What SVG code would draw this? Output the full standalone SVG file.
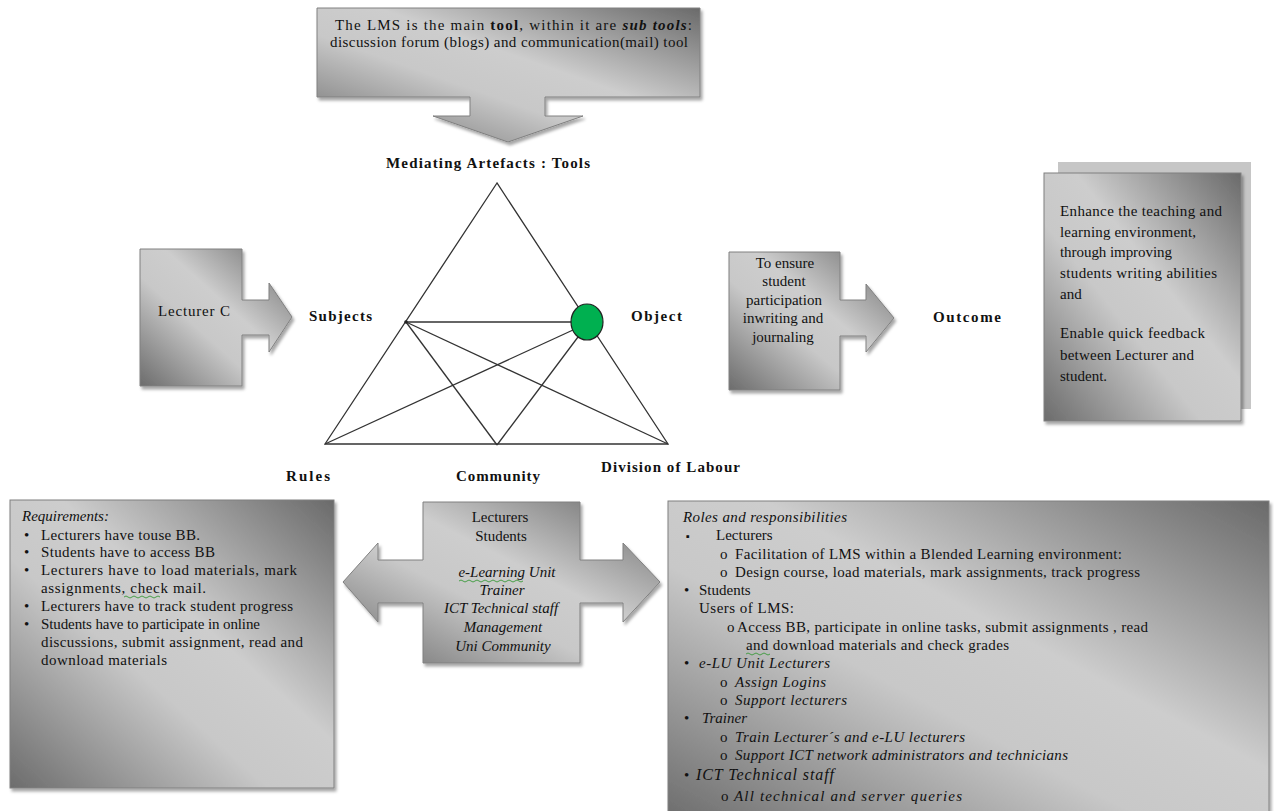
<svg xmlns="http://www.w3.org/2000/svg" width="1274" height="811" viewBox="0 0 1274 811">
<style>
.t{font-family:"Liberation Serif","Times New Roman",serif;font-size:15px;fill:#111}
.b{font-weight:bold}
.i{font-style:italic}
.m{text-anchor:middle}
.shape{fill:url(#g);stroke:#808080;stroke-width:1;filter:url(#sh)}
.ln{stroke:#333;stroke-width:1.3;fill:none}
.sq{stroke:#3a9a3a;stroke-width:0.9;fill:none}
</style>
<defs>
<linearGradient id="g" x1="1" y1="0" x2="0" y2="1">
<stop offset="0" stop-color="#6a6a6a"/>
<stop offset="0.42" stop-color="#cdcdcd"/>
<stop offset="0.6" stop-color="#c8c8c8"/>
<stop offset="1" stop-color="#6c6c6c"/>
</linearGradient>
<filter id="sh" x="-5%" y="-5%" width="115%" height="115%">
<feDropShadow dx="2" dy="3" stdDeviation="1.5" flood-color="#000" flood-opacity="0.35"/>
</filter>
</defs>
<rect width="1274" height="811" fill="#fff"/>

<g id="tools-callout">
<path class="shape" d="M317,8 H700 V97 H545 V116 H583 L508,142 L433,116 H470 V97 H317 Z"/>
<text class="t" x="335" y="30" textLength="357">The LMS is the main <tspan class="b">tool</tspan>, within it are <tspan class="b i">sub tools</tspan>:</text>
<text class="t" x="330" y="47" textLength="358">discussion forum (blogs) and communication(mail) tool</text>
</g>

<g id="subjects-callout">
<path class="shape" d="M140,249 H242 V300 H269 V283 L292,317 L269,352 V335 H242 V386 H140 Z"/>
<text class="t" x="158" y="316" textLength="72">Lecturer C</text>
</g>

<g id="object-callout">
<path class="shape" d="M729,252 H840 V300 H866 V284 L894,318 L866,352 V336 H840 V390 H729 Z"/>
<text class="t m" x="785" y="268">To ensure</text>
<text class="t m" x="784" y="286">student</text>
<text class="t m" x="784" y="305">participation</text>
<text class="t m" x="783" y="323">inwriting and</text>
<text class="t m" x="783" y="342">journaling</text>
</g>

<g id="outcome-box">
<rect x="1058" y="162" width="193" height="247" fill="#c6c6c6"/>
<rect class="shape" x="1044" y="173" width="197" height="248"/>
<text class="t" x="1060" y="216" textLength="162">Enhance the teaching and</text>
<text class="t" x="1060" y="237" textLength="136">learning environment,</text>
<text class="t" x="1060" y="257" textLength="112">through improving</text>
<text class="t" x="1060" y="278" textLength="157">students writing abilities</text>
<text class="t" x="1060" y="299">and</text>
<text class="t" x="1060" y="338" textLength="145">Enable quick feedback</text>
<text class="t" x="1060" y="360" textLength="134">between Lecturer and</text>
<text class="t" x="1060" y="381">student.</text>
</g>

<g id="rules-box">
<rect class="shape" x="10" y="500" width="324" height="288"/>
<text class="t i" x="22" y="521">Requirements:</text>
<g class="t">
<text x="24" y="540">•</text><text x="41" y="540" textLength="159">Lecturers have touse BB.</text>
<text x="24" y="557">•</text><text x="41" y="557" textLength="174">Students have to access BB</text>
<text x="24" y="575">•</text><text x="41" y="575" textLength="256">Lecturers have to load materials, mark</text>
<text x="41" y="593" textLength="165">assignments, check mail.</text>
<text x="24" y="611">•</text><text x="41" y="611" textLength="252">Lecturers have to track student progress</text>
<text x="24" y="629">•</text><text x="41" y="629" textLength="219">Students have to participate in online</text>
<text x="41" y="647" textLength="262">discussions, submit assignment, read and</text>
<text x="41" y="665" textLength="126">download materials</text>
</g>
<path class="sq" d="M124,597 q2,-2 4,0 t4,0 t4,0 t4,0 t4,0 t4,0 t4,0 t4,0 t4,0"/>
</g>

<g id="community-callout">
<path class="shape" d="M423,502 H580 V560 H623 V543 L660,582 L623,622 V603 H580 V663 H423 V603 H378 V622 L343,582 L378,543 V560 H423 Z"/>
<text class="t m" x="500" y="522">Lecturers</text>
<text class="t m" x="501" y="541">Students</text>
<text class="t i m" x="507" y="577">e-Learning Unit</text>
<text class="t i m" x="502" y="595">Trainer</text>
<text class="t i m" x="501" y="613">ICT Technical staff</text>
<text class="t i m" x="503" y="632">Management</text>
<text class="t i m" x="503" y="651">Uni Community</text>
<path class="sq" d="M459,581 q2,-2 4,0 t4,0 t4,0 t4,0 t4,0 t4,0 t4,0 t4,0 t4,0 t4,0 t4,0 t4,0 t4,0 t4,0 t4,0 t4,0"/>
</g>

<g id="division-box">
<rect class="shape" x="668" y="501" width="601" height="320"/>
<text class="t i" x="683" y="522" textLength="164">Roles and responsibilities</text>
<g class="t">
<text x="686" y="540" font-size="11">▪</text><text x="716" y="540">Lecturers</text>
<text x="720" y="559">o</text><text x="735" y="559" textLength="387">Facilitation of LMS within a Blended Learning environment:</text>
<text x="720" y="577">o</text><text x="735" y="577" textLength="405">Design course, load materials, mark assignments, track progress</text>
<text x="684" y="595">•</text><text x="699" y="595">Students</text>
<text x="699" y="613" textLength="95">Users of LMS:</text>
<text x="727" y="632">o</text><text x="737" y="632" textLength="411">Access BB, participate in online tasks, submit assignments , read</text>
<text x="746" y="650" textLength="263">and download materials and check grades</text>
<text x="684" y="668">•</text><text class="i" x="699" y="668" textLength="131">e-LU Unit Lecturers</text>
<text x="720" y="687">o</text><text class="i" x="735" y="687" textLength="91">Assign Logins</text>
<text x="720" y="705">o</text><text class="i" x="735" y="705" textLength="112">Support lecturers</text>
<text x="684" y="723">•</text><text class="i" x="702" y="723">Trainer</text>
<text x="720" y="742">o</text><text class="i" x="735" y="742" textLength="230">Train Lecturer´s and e-LU lecturers</text>
<text x="720" y="760">o</text><text class="i" x="735" y="760" textLength="333">Support ICT network administrators and technicians</text>
<text x="684" y="780">•</text><text class="i" x="696" y="780" font-size="16" textLength="138">ICT Technical staff</text>
<text x="721" y="801">o</text><text class="i" x="734" y="801" textLength="228">All technical and server queries</text>
</g>
<path class="sq" d="M746,654 q2,-2 4,0 t4,0 t4,0 t4,0 t4,0 t4,0"/>
</g>

<g id="activity-triangle">
<g id="connectors">
<path class="ln" d="M497,183 L325,444 L668,444 Z"/>
<line class="ln" x1="406" y1="322" x2="572" y2="322"/>
<line class="ln" x1="406" y1="322" x2="497" y2="445"/>
<line class="ln" x1="406" y1="322" x2="668" y2="444"/>
<line class="ln" x1="573" y1="330" x2="325" y2="444"/>
<line class="ln" x1="578" y1="337" x2="497" y2="445"/>
</g>
<circle cx="406" cy="322" r="1.8" fill="#222"/>
<ellipse id="object-node" cx="587" cy="322" rx="16" ry="18" fill="#00b050" stroke="#222" stroke-width="1.2"/>
</g>

<g id="labels">
<text class="t b" x="386" y="168" textLength="204">Mediating Artefacts : Tools</text>
<text class="t b" x="309" y="321" textLength="63">Subjects</text>
<text class="t b" x="631" y="321" textLength="51">Object</text>
<text class="t b" x="933" y="322" textLength="68">Outcome</text>
<text class="t b" x="286" y="481" textLength="44">Rules</text>
<text class="t b" x="456" y="481" textLength="84">Community</text>
<text class="t b" x="601" y="472" textLength="139">Division of Labour</text>
</g>
</svg>
